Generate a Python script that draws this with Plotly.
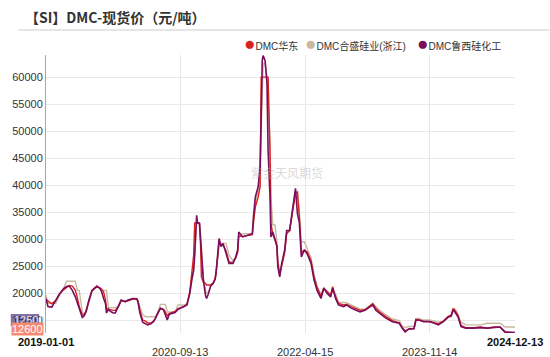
import plotly.graph_objects as go

dates = [
    "2019-01-01","2019-01-10","2019-01-28","2019-02-15","2019-03-05","2019-03-23","2019-04-06","2019-04-19",
    "2019-05-03","2019-05-17","2019-05-26","2019-06-04","2019-06-18","2019-06-27","2019-07-06","2019-07-19",
    "2019-08-02","2019-08-16","2019-08-25","2019-09-07","2019-09-16","2019-09-25","2019-10-04","2019-10-08",
    "2019-10-17","2019-10-26","2019-11-09","2019-11-18","2019-12-02","2019-12-15","2020-01-03","2020-01-17",
    "2020-02-08","2020-02-26","2020-03-02","2020-03-11","2020-03-24","2020-04-07","2020-04-16","2020-04-30",
    "2020-05-13","2020-05-22","2020-06-01","2020-06-14","2020-06-28","2020-07-07","2020-07-16","2020-07-25",
    "2020-08-08","2020-08-21","2020-09-04","2020-09-17","2020-10-01","2020-10-15","2020-10-28","2020-11-06",
    "2020-11-15","2020-11-20","2020-11-24","2020-11-29","2020-12-03","2020-12-12","2020-12-17","2020-12-21",
    "2020-12-30","2021-01-09","2021-01-14","2021-01-23","2021-02-01","2021-02-14","2021-02-23","2021-02-28",
    "2021-03-09","2021-03-13","2021-03-22","2021-03-31","2021-04-14","2021-04-28","2021-05-16","2021-05-29",
    "2021-06-07","2021-06-12","2021-06-30","2021-07-23","2021-08-14","2021-08-19","2021-08-28","2021-09-10",
    "2021-09-19","2021-09-24","2021-09-29","2021-10-03","2021-10-12","2021-10-21","2021-10-26","2021-11-04",
    "2021-11-08","2021-11-17","2021-11-27","2021-12-06","2021-12-10","2021-12-19","2021-12-28","2022-01-11",
    "2022-01-20","2022-02-03","2022-02-16","2022-03-02","2022-03-11","2022-03-20","2022-03-29","2022-04-12",
    "2022-04-25","2022-05-13","2022-05-27","2022-06-10","2022-06-28","2022-07-11","2022-07-25","2022-08-12",
    "2022-08-21","2022-09-04","2022-09-17","2022-10-10","2022-10-24","2022-11-15","2022-12-08","2022-12-26",
    "2023-01-18","2023-02-10","2023-02-23","2023-03-09","2023-03-27","2023-04-23","2023-05-25","2023-06-26",
    "2023-07-09","2023-07-23","2023-08-10","2023-09-02","2023-09-11","2023-09-25","2023-10-17","2023-11-14",
    "2023-12-06","2023-12-24","2024-01-16","2024-02-08","2024-02-21","2024-03-01","2024-03-06","2024-03-15",
    "2024-03-24","2024-04-07","2024-04-29","2024-06-04","2024-07-06","2024-08-07","2024-09-03","2024-10-05",
    "2024-10-28","2024-12-13",
]

luxi = [
    19000,17500,17400,18700,19900,20800,21200,21300,20500,19300,18200,16900,15500,15800,16600,18700,
    20500,21000,21300,20900,20200,19000,18000,16300,17000,16600,16300,16300,17400,18700,18400,18700,
    19000,18900,18400,16300,14600,14300,14100,14300,14700,15300,16200,17200,16900,16000,15000,16100,
    16300,16400,17000,17200,17500,17800,19900,22400,24300,27000,30000,34400,33000,32900,30000,28000,
    22400,19600,19000,19900,21200,21800,22600,24300,28000,30100,28600,29200,27400,25500,25500,26700,
    28000,31300,30400,30700,31000,34100,37800,39700,43400,52600,63100,64000,63100,58800,46500,37800,
    30400,31300,29800,28600,24900,23000,25500,28000,31600,31600,35400,39400,34700,33000,26700,28000,
    27300,25500,22400,20500,19000,20900,20000,19300,20900,19000,17800,17500,17800,17200,16800,16500,
    16800,17400,17800,16800,16200,15400,14700,14400,13500,12800,13400,13400,15000,15000,14700,14700,
    14400,14100,14700,15600,15700,16800,16700,16200,15600,13800,13500,13500,13600,13500,13600,13700,
    12800,12700,
]

huadong = [
    18800,18500,18000,18600,19800,20600,21000,21400,21300,20500,19200,17500,16000,15900,16800,18500,
    20400,20900,21100,21000,20700,20200,18700,17200,17000,16900,16800,16800,17400,18600,18400,18600,
    18900,18900,18500,16800,15000,14800,14500,14400,14800,15300,16300,17100,17000,16500,15800,16200,
    16400,16600,17100,17300,17500,17900,20200,23500,27000,33000,33000,33000,33000,33000,29000,23000,
    22000,21800,21500,21500,21500,21900,22700,24000,27500,29500,28800,29000,27800,25800,25600,26500,
    27500,30500,30500,30600,30800,33000,36000,37800,39700,60000,60000,60000,60000,60000,60000,46000,
    33000,30800,30000,28800,25500,23500,25000,27500,31000,31600,35000,38500,38700,34000,27500,28000,
    27600,26000,23000,21000,19400,20800,20300,19600,21200,19300,18100,17800,17900,17500,17000,16800,
    16900,17500,18000,17200,16500,15700,14900,14500,13600,13000,13300,13400,15100,15000,14800,14700,
    14500,14300,14800,15700,15900,17100,17000,16500,15900,14000,13600,13600,13700,13500,13700,13700,
    12700,12600,
]

hesheng = [
    19600,18100,18100,18100,19600,20800,22200,22200,22200,22200,20500,20500,16500,16000,16600,18600,
    20300,20900,21200,20800,20500,20500,20500,20500,17300,17300,17300,17300,17500,18600,18500,18700,
    19000,19000,18700,17500,16000,15600,15600,15600,15600,15600,16300,17900,17900,17900,16500,16500,
    16500,16500,17800,17800,17800,18000,19800,22000,24000,27500,30500,33000,33000,32800,31000,29000,
    23000,20500,20000,20200,21300,22000,22800,24000,27000,29000,29200,29200,29200,27000,26000,26500,
    27800,30600,31000,31000,31000,32500,37000,39000,40000,50000,60000,62500,62500,60000,56000,48000,
    38000,32600,32600,29500,26000,24000,25000,27800,31000,31800,35000,38600,38800,35000,29500,29500,
    28200,26500,23500,21300,19800,21000,20500,19800,20500,19800,18300,18200,18200,17800,17300,17000,
    17000,17600,18100,17500,16800,16000,15200,14900,13900,13600,13800,13800,15300,15300,15000,15000,
    14800,14600,14800,15500,15800,16800,17100,16800,16000,14600,14100,14100,14100,14400,14400,14400,
    13700,13700,
]

y_ticks = [15000, 20000, 25000, 30000, 35000, 40000, 45000, 50000, 55000, 60000]
x_grid = ["2020-09-13", "2022-04-15", "2023-11-14"]
x_edge_labels = ["2019-01-01", "2024-12-13"]

names = ["DMC华东", "DMC合盛硅业(浙江)", "DMC鲁西硅化工"]
colors = ["#d9221e", "#c9b8a0", "#7c0c5c"]
end_labels = ["12600", "12500"]

fig = go.Figure()
fig.add_trace(go.Scatter(x=dates, y=hesheng, mode="lines", name=names[1],
                         line=dict(color=colors[1], width=1.4), showlegend=False))
fig.add_trace(go.Scatter(x=dates, y=huadong, mode="lines", name=names[0],
                         line=dict(color=colors[0], width=1.4), showlegend=False))
fig.add_trace(go.Scatter(x=dates, y=luxi, mode="lines", name=names[2],
                         line=dict(color=colors[2], width=1.6), showlegend=False))

W, H = 550, 357
ml, mr, mt, mb = 36, 35, 55, 24
pw, ph = W - ml - mr, H - mt - mb

def px(xp):
    return (xp - ml) / pw

def py(yp):
    return (H - mb - yp) / ph

sans = "Liberation Sans, Arial, Noto Sans CJK SC, sans-serif"

ann = []
# title
ann.append(dict(text="<b>【SI】DMC-现货价（元/吨）</b>", x=px(12), y=py(17), xref="paper", yref="paper",
                xanchor="left", yanchor="middle", showarrow=False,
                font=dict(family="Noto Sans CJK SC", size=14, color="#333333")))
# legend
leg_x = [236, 298, 413]
for i in range(3):
    ann.append(dict(text=f'<span style="color:{colors[i]};font-size:19px">●</span>{names[i]}',
                    x=px(leg_x[i]), y=py(43), xref="paper", yref="paper",
                    xanchor="left", yanchor="middle", showarrow=False,
                    font=dict(family=sans, size=10, color="#333333")))
# watermark
ann.append(dict(text="紫金天风期货", x=px(282), y=py(172), xref="paper", yref="paper",
                showarrow=False, font=dict(family="Noto Sans CJK SC", size=12, color="rgba(170,170,170,0.45)")))
# x labels
for d in x_edge_labels:
    ann.append(dict(text=f"<b>{d}</b>", x=d, y=py(342), xref="x", yref="paper",
                    xanchor="center", yanchor="middle", showarrow=False,
                    font=dict(family=sans, size=11, color="#111111")))
for d in x_grid:
    ann.append(dict(text=d, x=d, y=py(352), xref="x", yref="paper",
                    xanchor="center", yanchor="middle", showarrow=False,
                    font=dict(family=sans, size=11, color="#333333")))
# end value labels
ann.append(dict(text=end_labels[1], x=px(1), y=py(320), xref="paper", yref="paper",
                xanchor="left", yanchor="middle", showarrow=False,
                font=dict(family=sans, size=11, color="#e8e0f0")))
ann.append(dict(text=end_labels[0], x=px(0), y=py(328.5), xref="paper", yref="paper",
                xanchor="left", yanchor="middle", showarrow=False, bgcolor="#f48a72",
                borderpad=0, font=dict(family=sans, size=11, color="#ffffff")))

shapes = [
    dict(type="line", xref="paper", yref="paper", x0=px(8), x1=px(550), y0=py(30), y1=py(30),
         line=dict(color="#cccccc", width=1)),
    dict(type="rect", xref="paper", yref="paper", x0=px(0), x1=px(29), y0=py(326), y1=py(314),
         fillcolor="#8470a6", line=dict(width=0), layer="below"),
]

fig.update_layout(
    width=W, height=H, margin=dict(l=ml, r=mr, t=mt, b=mb),
    paper_bgcolor="white", plot_bgcolor="white",
    showlegend=False, annotations=ann, shapes=shapes,
    xaxis=dict(type="date", range=["2019-01-01", "2024-12-13"], tickvals=x_grid,
               showticklabels=False, showgrid=True, gridcolor="#e6e6e6", gridwidth=1,
               showline=False, zeroline=False, ticks=""),
    yaxis=dict(range=[12600, 64100], tickvals=y_ticks, ticktext=[str(v) for v in y_ticks],
               showgrid=True, gridcolor="#e9e9e9", gridwidth=1, showline=True,
               linecolor="#a8a8a8", linewidth=1, zeroline=False, ticks="",
               tickfont=dict(family=sans, size=11, color="#333333")),
)

fig.write_html("out.html", config={"displayModeBar": False},
               post_script="document.body.style.margin='0';document.body.style.overflow='hidden';")
